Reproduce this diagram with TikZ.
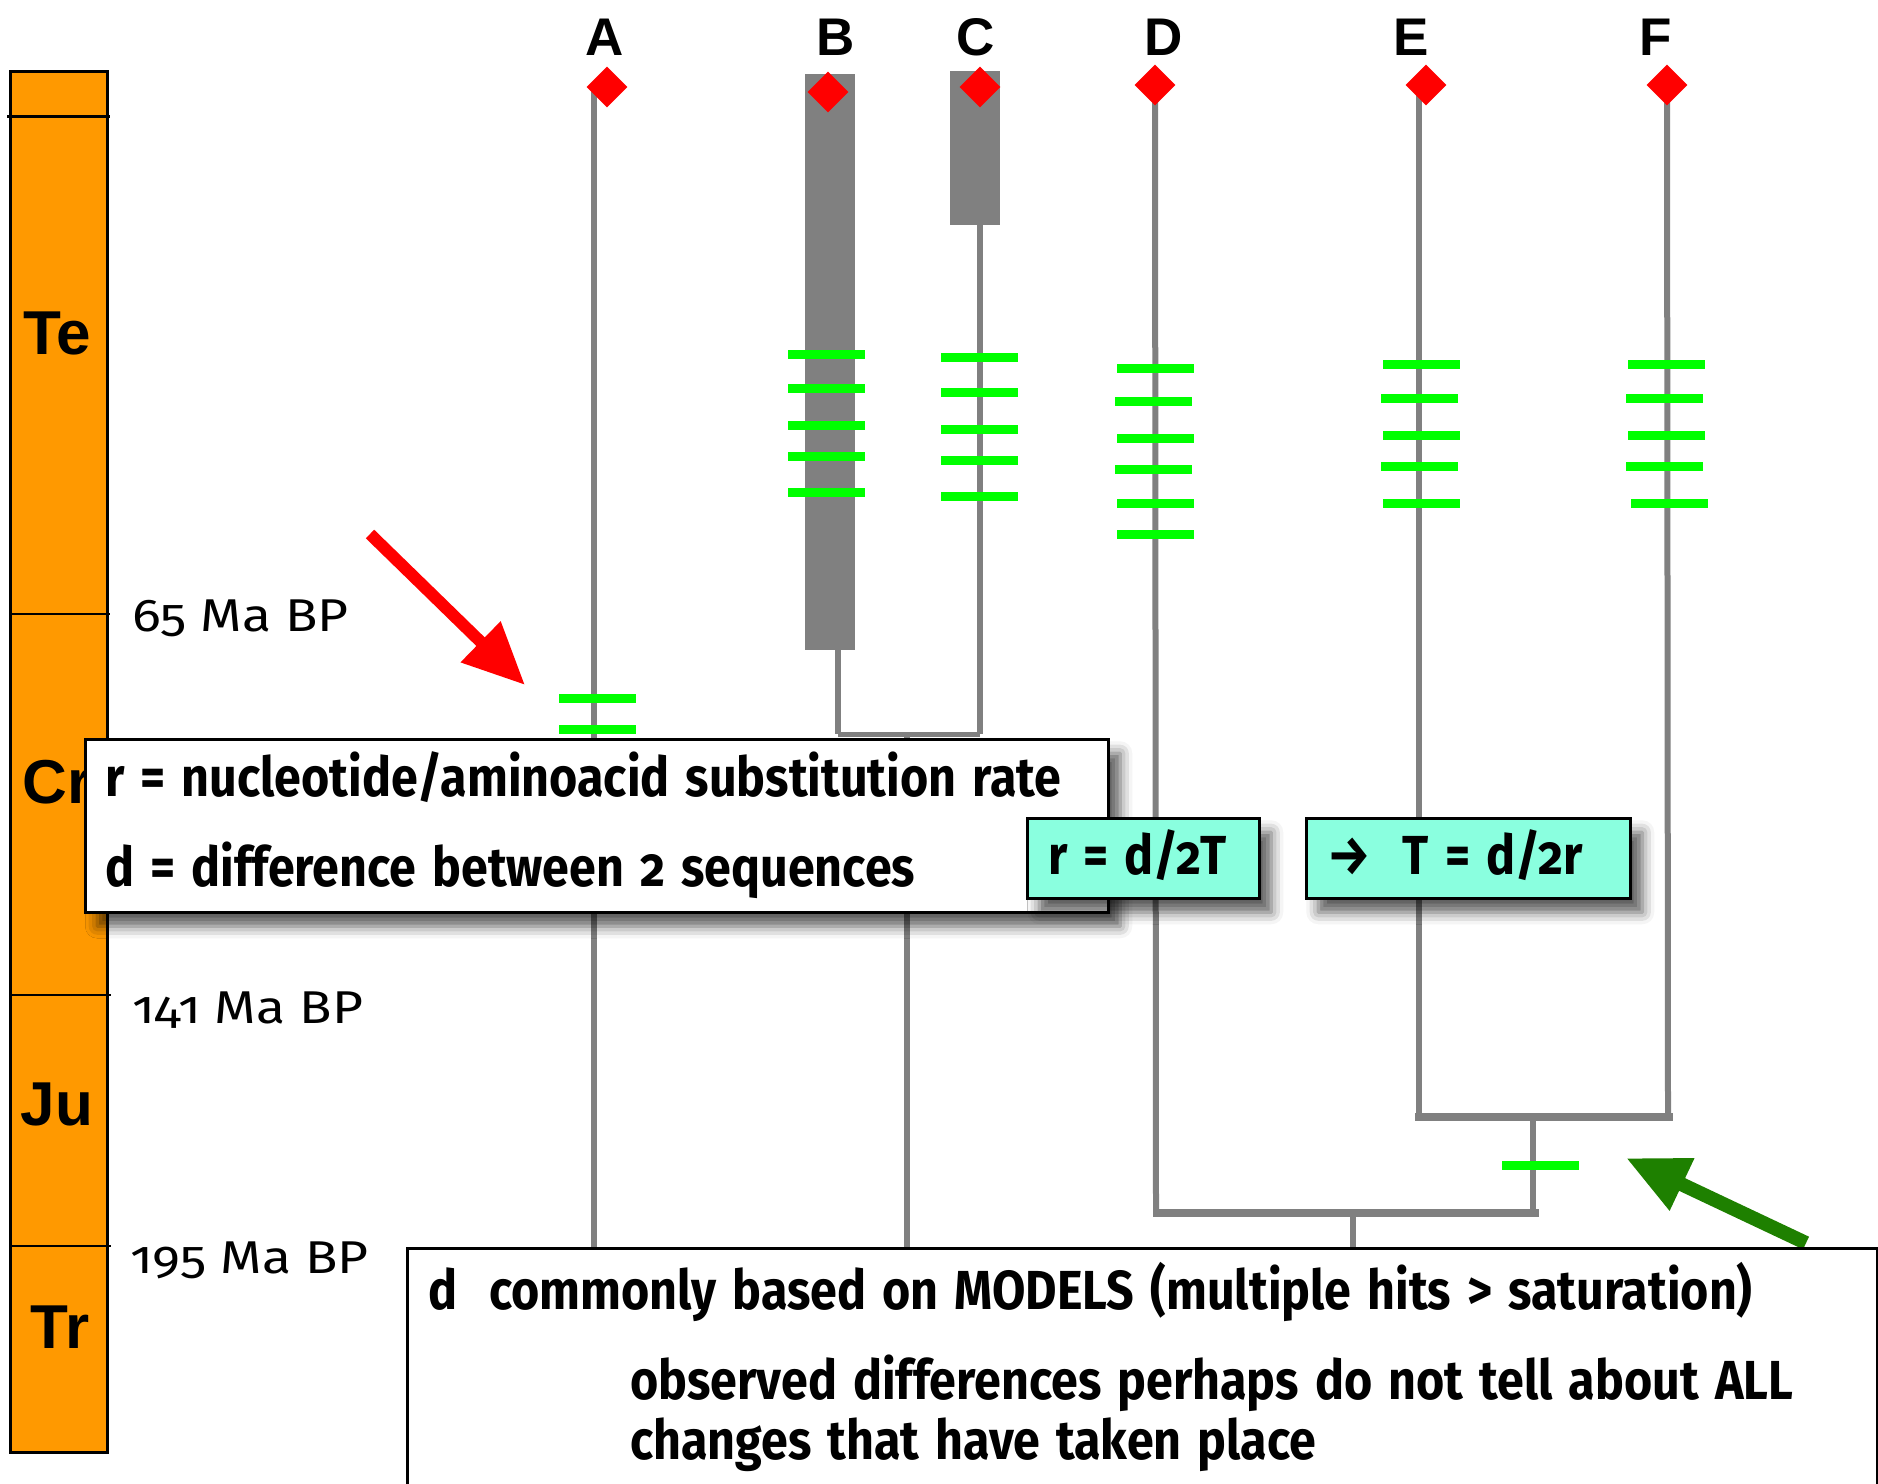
\documentclass[tikz,border=0pt]{standalone}
\usepackage{fontspec}
\setmainfont[Numbers=OldStyle]{Fira Sans}
\newfontfamily\boxfont[Numbers=OldStyle,FakeStretch=0.88,WordSpace=1.4]{Fira Sans}
\newfontfamily\agefont[Numbers=OldStyle,FakeStretch=1.16,WordSpace=1.0]{Fira Sans}
\newfontfamily\headfont{Liberation Sans}
\usetikzlibrary{shapes.geometric,arrows.meta,shadows.blur}
\definecolor{eraorange}{HTML}{FF9900}
\definecolor{treegray}{HTML}{808080}
\definecolor{hitgreen}{HTML}{00FF00}
\definecolor{tipred}{HTML}{FF0000}
\definecolor{formulacyan}{HTML}{8AFFDF}
\definecolor{darkgreen}{HTML}{1E8000}
\tikzset{
  branch/.style={draw=treegray, line width=6pt},
  thinbranch/.style={draw=treegray, line width=5pt},
  joint/.style={draw=treegray, line width=8pt},
  hit/.style={rectangle, fill=hitgreen, minimum width=77pt, minimum height=9pt, inner sep=0pt},
  taxon/.style={diamond, fill=tipred, minimum width=41pt, minimum height=41pt, inner sep=0pt},
  lineage/.style={rectangle, fill=treegray, inner sep=0pt, anchor=north west},
  taxlabel/.style={font=\headfont\bfseries\fontsize{53}{60}\selectfont, anchor=base, inner sep=0pt},
  erabox/.style={font=\headfont\bfseries\fontsize{62}{70}\selectfont, inner sep=0pt},
  agelabel/.style={font=\agefont\fontsize{46}{52}\selectfont, anchor=base west, inner sep=0pt},
  note/.style={rectangle, draw=black, line width=2.5pt, fill=white, inner sep=0pt, anchor=north west},
  formula/.style={rectangle, draw=black, line width=2.5pt, fill=formulacyan, inner sep=0pt, anchor=north west},
  notetext/.style={font=\boxfont\bfseries\fontsize{55}{60}\selectfont, anchor=base west, inner sep=0pt},
  shadowed/.style={blur shadow={shadow xshift=12pt, shadow yshift=-14pt, shadow blur radius=12pt, shadow opacity=65}},
  pointer/.style={line width=12pt, -{Triangle[length=62pt,width=54pt]}},
}
\begin{document}
\begin{tikzpicture}[x=1pt,y=-1pt]
\useasboundingbox (0,0) rectangle (1878,1483);

% geological time bar
\node[rectangle, draw=black, line width=3pt, fill=eraorange, minimum width=97pt, minimum height=1381pt, inner sep=0pt, anchor=north west] (timebar) at (9,70) {};
\coordinate (q0) at (7,116);   \coordinate (q1) at (110,116);
\coordinate (k0) at (9,614);   \coordinate (k1) at (110,614);
\coordinate (j0) at (9,995);   \coordinate (j1) at (111,995);
\coordinate (t0) at (9,1246);  \coordinate (t1) at (111,1246);
\draw[line width=3pt] (q0) -- (q1);
\draw[line width=2.5pt] (k0) -- (k1);
\draw[line width=2.5pt] (j0) -- (j1);
\draw[line width=2.5pt] (t0) -- (t1);
\node[erabox] (te) at (57,333) {Te};
\node[erabox] (cr) at (57,782) {Cr};
\node[erabox] (ju) at (57,1104) {Ju};
\node[erabox] (tr) at (60,1327) {Tr};
\node[agelabel] (age65) at (132,631) {65 Ma BP};
\node[agelabel] (age141) at (132,1023) {141 Ma BP};
\node[agelabel] (age195) at (130,1273) {195 Ma BP};

% taxon labels and tips
\node[taxlabel] (labA) at (605,55) {A};
\node[taxlabel] (labB) at (836,55) {B};
\node[taxlabel] (labC) at (976,55) {C};
\node[taxlabel] (labD) at (1164,55) {D};
\node[taxlabel] (labE) at (1411,55) {E};
\node[taxlabel] (labF) at (1656,55) {F};
\coordinate (A) at (607,87);
\coordinate (B) at (828,92);
\coordinate (C) at (980,87);
\coordinate (D) at (1155,85);
\coordinate (E) at (1426,85);
\coordinate (F) at (1667,85);

% internal points of the tree
\coordinate (Atop) at (594,87);   \coordinate (Aroot) at (594,1260);
\coordinate (Bfoot) at (838,734); \coordinate (Cfoot) at (980,734);
\coordinate (BCtop) at (907,734); \coordinate (BCroot) at (907,1260);
\coordinate (Dfoot) at (1156,1213);
\coordinate (Etop) at (1419,85);  \coordinate (Efoot) at (1419,1117);
\coordinate (Ffoot) at (1668,1117);
\coordinate (EFl) at (1415,1117); \coordinate (EFr) at (1673,1117);
\coordinate (EFtop) at (1533,1117); \coordinate (EFroot) at (1533,1213);
\coordinate (DEFl) at (1153,1213); \coordinate (DEFr) at (1539,1213);
\coordinate (DEFtop) at (1353,1213); \coordinate (DEFroot) at (1353,1260);

% branches
\draw[branch] (Atop) -- (Aroot);
\draw[branch] (C) -- (Cfoot);
\draw[thinbranch] (Bfoot) -- (Cfoot);
\draw[branch] (BCtop) -- (BCroot);
\draw[branch] (D) -- (Dfoot);
\draw[branch] (Etop) -- (Efoot);
\draw[branch] (F) -- (Ffoot);
\draw[joint] (EFl) -- (EFr);
\draw[branch] (EFtop) -- (EFroot);
\draw[joint] (DEFl) -- (DEFr);
\draw[branch] (DEFtop) -- (DEFroot);

% thick lineages
\node[lineage, minimum width=50pt, minimum height=576pt] (Bbar) at (805,74) {};
\node[lineage, minimum width=50pt, minimum height=154pt] (Cbar) at (950,71) {};
\draw[branch] (Bbar.south -| Bfoot) -- (Bfoot);

% substitutions
\node[hit] (a1) at (597,698) {};
\node[hit] (a2) at (597,729) {};
\foreach \y [count=\i] in {354,388,425,456,492}
  \node[hit] (b\i) at (826,\y) {};
\foreach \y [count=\i] in {357,392,429,460,496}
  \node[hit] (c\i) at (979,\y) {};
\foreach \y/\x [count=\i] in {368/1155,401/1153,438/1155,469/1153,503/1155,534/1155}
  \node[hit] (d\i) at (\x,\y) {};
\foreach \y/\x [count=\i] in {364/1421,398/1419,435/1421,466/1419,503/1421}
  \node[hit] (e\i) at (\x,\y) {};
\foreach \y/\x [count=\i] in {364/1666,398/1664,435/1666,466/1664,503/1669}
  \node[hit] (f\i) at (\x,\y) {};
\node[hit] (ef1) at (1540,1165) {};

% tips
\foreach \t in {A,B,C,D,E,F}
  \node[taxon] (tip\t) at (\t) {};

% pointers
\coordinate (redtail) at (370,534);
\coordinate (redtip) at (525,685);
\draw[pointer, draw=tipred, fill=tipred] (redtail) -- (redtip);
\coordinate (greentail) at (1806,1243);
\coordinate (greentip) at (1626,1158);
\draw[pointer, line width=14pt, draw=darkgreen, fill=darkgreen] (greentail) -- (greentip);

% definitions
\node[note, shadowed, minimum width=1023pt, minimum height=173pt] (defs) at (84,738) {};
\node[notetext] (rdef) at (105,796) {r = nucleotide/aminoacid substitution rate};
\node[notetext] (ddef) at (105,886) {d = difference between 2 sequences};

\node[formula, shadowed, minimum width=232pt, minimum height=80pt] (rbox) at (1026,817) {};
\node[notetext] (rtext) at (1048,874) {r = d/2T};
\node[formula, shadowed, minimum width=324pt, minimum height=80pt] (tbox) at (1305,817) {};
\node[notetext] (ttext) at (1327,874) {→\ \ T = d/2r};

% caveat
\node[note, minimum width=1470pt, minimum height=300pt] (caveat) at (406,1247) {};
\node[notetext] (cav1) at (428,1309) {d\ \ commonly based on MODELS (multiple hits > saturation)};
\node[notetext] (cav2) at (630,1399) {observed differences perhaps do not tell about ALL};
\node[notetext] (cav3) at (630,1459) {changes that have taken place};
\end{tikzpicture}
\end{document}
